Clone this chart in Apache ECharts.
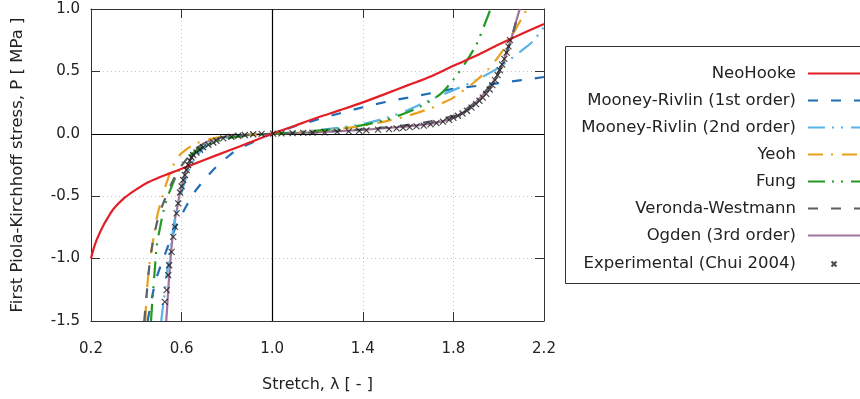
<!DOCTYPE html>
<html>
<head>
<meta charset="utf-8">
<script src="https://cdn.jsdelivr.net/npm/echarts@6/dist/echarts.min.js"></script>
<style>
  html, body { margin: 0; padding: 0; background: #fff; }
  #chart { width: 860px; height: 399px; }
</style>
</head>
<body>
<div id="chart"></div>
<script>
// Uniaxial response of hyperelastic models: stretch λ [-] vs. first Piola-Kirchhoff stress P [MPa]
const xTicks = [0.2, 0.6, 1.0, 1.4, 1.8, 2.2];
const yTicks = [-1.5, -1.0, -0.5, 0.0, 0.5, 1.0];

const seriesNames = [
  'NeoHooke',
  'Mooney-Rivlin (1st order)',
  'Mooney-Rivlin (2nd order)',
  'Yeoh',
  'Fung',
  'Veronda-Westmann',
  'Ogden (3rd order)',
  'Experimental (Chui 2004)'
];

const neoHooke = [
  [0.2, -1.0], [0.21, -0.93], [0.225, -0.85], [0.25, -0.75], [0.275, -0.67], [0.3, -0.6],
  [0.35, -0.51], [0.4, -0.445], [0.45, -0.39], [0.5, -0.35], [0.55, -0.315], [0.6, -0.28],
  [0.7, -0.21], [0.8, -0.14], [0.9, -0.07], [1.0, 0.0], [1.1, 0.065], [1.2, 0.13],
  [1.3, 0.19], [1.4, 0.252], [1.5, 0.32], [1.6, 0.39], [1.7, 0.46], [1.8, 0.545],
  [1.9, 0.625], [2.0, 0.715], [2.1, 0.8], [2.2, 0.88]
];

const mooneyRivlin1 = [
  [0.45, -1.5], [0.46, -1.4], [0.475, -1.26], [0.49, -1.15], [0.505, -1.07], [0.52, -1.0],
  [0.54, -0.9], [0.56, -0.81], [0.58, -0.72], [0.6, -0.65], [0.63, -0.55], [0.66, -0.46],
  [0.7, -0.37], [0.75, -0.27], [0.8, -0.19], [0.85, -0.12], [0.9, -0.08], [0.95, -0.038],
  [1.0, 0.0], [1.1, 0.06], [1.2, 0.115], [1.3, 0.165], [1.4, 0.213], [1.5, 0.255],
  [1.6, 0.29], [1.7, 0.325], [1.8, 0.36], [1.9, 0.383], [2.0, 0.405], [2.1, 0.43], [2.2, 0.455]
];

const mooneyRivlin2 = [
  [0.51, -1.5], [0.52, -1.35], [0.53, -1.2], [0.54, -1.05], [0.55, -0.92], [0.56, -0.8],
  [0.575, -0.66], [0.59, -0.54], [0.605, -0.44], [0.62, -0.35], [0.64, -0.26], [0.66, -0.19],
  [0.7, -0.11], [0.75, -0.06], [0.8, -0.03], [0.9, -0.008], [1.0, 0.0], [1.1, 0.012],
  [1.2, 0.03], [1.3, 0.05], [1.4, 0.078], [1.5, 0.125], [1.6, 0.19], [1.7, 0.275],
  [1.8, 0.35], [1.9, 0.43], [2.0, 0.53], [2.1, 0.665], [2.15, 0.74], [2.2, 0.855]
];

const yeoh = [
  [0.44, -1.5], [0.445, -1.3], [0.452, -1.15], [0.46, -1.02], [0.47, -0.9], [0.48, -0.79],
  [0.49, -0.68], [0.5, -0.6], [0.52, -0.47], [0.54, -0.36], [0.56, -0.265], [0.58, -0.2],
  [0.6, -0.155], [0.65, -0.09], [0.7, -0.055], [0.75, -0.033], [0.8, -0.02], [0.9, -0.007],
  [1.0, 0.0], [1.1, 0.01], [1.2, 0.022], [1.3, 0.04], [1.4, 0.065], [1.5, 0.1],
  [1.6, 0.145], [1.7, 0.205], [1.75, 0.245], [1.8, 0.29], [1.85, 0.355], [1.9, 0.425],
  [1.95, 0.51], [2.0, 0.62], [2.05, 0.76], [2.1, 0.92], [2.125, 1.0]
];

const fung = [
  [0.465, -1.5], [0.47, -1.36], [0.475, -1.24], [0.482, -1.08], [0.49, -0.9], [0.505, -0.75],
  [0.52, -0.62], [0.535, -0.52], [0.55, -0.45], [0.57, -0.36], [0.59, -0.285], [0.61, -0.225],
  [0.65, -0.155], [0.7, -0.1], [0.75, -0.062], [0.8, -0.036], [0.9, -0.011], [1.0, 0.0],
  [1.1, 0.01], [1.2, 0.025], [1.3, 0.042], [1.4, 0.07], [1.5, 0.11], [1.6, 0.175],
  [1.65, 0.215], [1.7, 0.265], [1.75, 0.33], [1.8, 0.435], [1.85, 0.56], [1.9, 0.71],
  [1.93, 0.84], [1.96, 0.98], [1.965, 1.0]
];

const verondaWestmann = [
  [0.435, -1.5], [0.44, -1.4], [0.445, -1.3], [0.455, -1.1], [0.47, -0.9], [0.49, -0.72],
  [0.51, -0.6], [0.534, -0.49], [0.555, -0.4], [0.578, -0.32], [0.6, -0.255], [0.63, -0.185],
  [0.66, -0.125], [0.7, -0.078], [0.75, -0.042], [0.8, -0.024], [0.9, -0.008], [1.0, 0.0],
  [1.1, 0.006], [1.2, 0.013], [1.3, 0.025], [1.4, 0.036], [1.5, 0.052], [1.6, 0.072],
  [1.7, 0.1], [1.8, 0.145], [1.85, 0.19], [1.9, 0.26], [1.95, 0.36], [2.0, 0.5],
  [2.05, 0.73], [2.08, 0.92], [2.092, 1.0]
];

const ogden = [
  [0.532, -1.5], [0.536, -1.4], [0.541, -1.25], [0.546, -1.12], [0.551, -1.0], [0.556, -0.9],
  [0.562, -0.8], [0.57, -0.69], [0.58, -0.6], [0.59, -0.5], [0.6, -0.425], [0.615, -0.32],
  [0.63, -0.24], [0.65, -0.17], [0.67, -0.12], [0.7, -0.075], [0.75, -0.04], [0.8, -0.02],
  [0.85, -0.012], [0.9, -0.007], [0.95, -0.003], [1.0, 0.0], [1.1, 0.006], [1.2, 0.012],
  [1.3, 0.021], [1.4, 0.032], [1.5, 0.045], [1.6, 0.06], [1.65, 0.069], [1.7, 0.082],
  [1.75, 0.1], [1.8, 0.13], [1.85, 0.18], [1.9, 0.255], [1.95, 0.355], [2.0, 0.49],
  [2.05, 0.73], [2.08, 0.92], [2.093, 1.0]
];

const experimental = [
  [0.526, -1.347], [0.534, -1.253], [0.541, -1.133], [0.545, -1.053], [0.556, -0.946],
  [0.563, -0.826], [0.571, -0.746], [0.578, -0.638], [0.585, -0.558], [0.593, -0.47],
  [0.6, -0.42], [0.607, -0.37], [0.615, -0.33], [0.622, -0.29], [0.629, -0.25],
  [0.637, -0.215], [0.644, -0.19], [0.651, -0.17], [0.666, -0.15], [0.681, -0.128],
  [0.695, -0.108], [0.718, -0.088], [0.74, -0.07], [0.754, -0.056], [0.784, -0.037],
  [0.82, -0.024], [0.85, -0.016], [0.879, -0.01], [0.916, -0.004], [0.953, -0.001],
  [1.004, 0.001], [1.041, 0.003], [1.09, 0.005], [1.137, 0.007], [1.178, 0.009],
  [1.232, 0.012], [1.287, 0.016], [1.338, 0.02], [1.384, 0.024], [1.416, 0.028],
  [1.467, 0.033], [1.516, 0.038], [1.549, 0.043], [1.578, 0.048], [1.607, 0.053],
  [1.637, 0.059], [1.669, 0.066], [1.699, 0.075], [1.725, 0.085], [1.754, 0.098],
  [1.781, 0.112], [1.8, 0.128], [1.82, 0.145], [1.84, 0.163], [1.86, 0.185],
  [1.88, 0.21], [1.9, 0.238], [1.915, 0.265], [1.93, 0.29], [1.945, 0.32],
  [1.96, 0.355], [1.972, 0.39], [1.984, 0.43], [1.995, 0.47], [2.005, 0.51],
  [2.015, 0.555], [2.025, 0.6], [2.035, 0.65], [2.043, 0.7], [2.05, 0.75]
];

const FONT = 'DejaVu Sans';
const TEXT = '#222';
const FRAME = '#333';
const LW = 2.2;

// small "x" marker; the invisible corners keep it small inside the legend icon box
const crossMarker = 'path://M0 0M40 40M14.5 14.5L25.5 25.5M25.5 14.5L14.5 25.5';
const crossPlot = 'path://M0 0L10 10M10 0L0 10';

function curve(name, data, color, dash, z) {
  return {
    name: name,
    type: 'line',
    data: data,
    showSymbol: false,
    symbol: 'none',
    smooth: 0.3,
    z: z,
    lineStyle: { color: color, width: LW, type: dash, cap: 'butt' },
    itemStyle: { color: color },
    emphasis: { disabled: true }
  };
}

const fmt = v => Number(v).toFixed(1);

const chart = echarts.init(document.getElementById('chart'), null, { renderer: 'canvas' });

const option = {
  animation: false,
  backgroundColor: '#fff',
  textStyle: { fontFamily: FONT },
  grid: { left: 91, right: 316, top: 9, bottom: 78, containLabel: false },
  xAxis: [
    {
      type: 'value', min: 0.2, max: 2.2, position: 'bottom',
      name: 'Stretch, λ [ - ]', nameLocation: 'middle', nameGap: 56,
      nameTextStyle: { fontFamily: FONT, fontSize: 16, color: TEXT },
      axisLine: { show: true, onZero: false, lineStyle: { color: FRAME, width: 1 } },
      axisTick: { show: true, inside: true, length: 9, customValues: xTicks, lineStyle: { color: FRAME } },
      axisLabel: { show: true, margin: 21, customValues: xTicks, formatter: fmt,
                   fontFamily: FONT, fontSize: 15, color: TEXT },
      splitLine: { show: true, lineStyle: { color: '#c4c4c4', width: 1, type: [1, 3] } }
    },
    {
      type: 'value', min: 0.2, max: 2.2, position: 'top',
      axisLine: { show: true, onZero: false, lineStyle: { color: FRAME, width: 1 } },
      axisTick: { show: true, inside: true, length: 9, customValues: xTicks, lineStyle: { color: FRAME } },
      axisLabel: { show: false },
      splitLine: { show: false }
    }
  ],
  yAxis: [
    {
      type: 'value', min: -1.5, max: 1.0, interval: 0.5, position: 'left',
      name: 'First Piola-Kirchhoff stress, P [ MPa ]', nameLocation: 'middle', nameGap: 65,
      nameTextStyle: { fontFamily: FONT, fontSize: 16.5, color: TEXT },
      axisLine: { show: true, onZero: false, lineStyle: { color: FRAME, width: 1 } },
      axisTick: { show: true, inside: true, length: 9, lineStyle: { color: FRAME } },
      axisLabel: { show: true, margin: 11, formatter: fmt, fontFamily: FONT, fontSize: 15, color: TEXT },
      splitLine: { show: true, lineStyle: { color: '#c4c4c4', width: 1, type: [1, 3] } }
    },
    {
      type: 'value', min: -1.5, max: 1.0, interval: 0.5, position: 'right',
      axisLine: { show: true, onZero: false, lineStyle: { color: FRAME, width: 1 } },
      axisTick: { show: true, inside: true, length: 9, lineStyle: { color: FRAME } },
      axisLabel: { show: false },
      splitLine: { show: false }
    }
  ],
  legend: {
    orient: 'vertical',
    align: 'right',
    right: -1,
    top: 65,
    padding: 0,
    itemWidth: 52,
    itemHeight: 18,
    itemGap: 10,
    selectedMode: false,
    // line entries show only the line sample; the measured data shows its marker
    data: seriesNames.map((n, i) => i === 7
      ? { name: n, icon: crossMarker }
      : { name: n, itemStyle: { opacity: 0 } }),
    textStyle: { fontFamily: FONT, fontSize: 16.5, color: TEXT, padding: [0, 7, 0, 0] }
  },
  graphic: [
    {
      type: 'rect', z: -1, silent: true,
      shape: { x: 565.5, y: 46.5, width: 320, height: 237 },
      style: { fill: '#fff', stroke: '#333', lineWidth: 1 }
    }
  ],
  series: [
    {
      // coordinate axes through the origin (λ = 1, P = 0)
      name: 'origin', type: 'line', data: [], z: 1, symbol: 'none',
      markLine: {
        silent: true, symbol: 'none', label: { show: false },
        lineStyle: { color: '#000', width: 1.2, type: 'solid' },
        data: [{ xAxis: 1.0 }, { yAxis: 0 }]
      }
    },
    curve(seriesNames[0], neoHooke, '#e41e26', 'solid', 9),
    curve(seriesNames[1], mooneyRivlin1, '#1f6db4', [10, 13], 3),
    curve(seriesNames[2], mooneyRivlin2, '#58b3e6', [17, 7, 2, 7, 2, 8], 4),
    curve(seriesNames[3], yeoh, '#e9a01c', [15, 8, 2, 9], 5),
    curve(seriesNames[4], fung, '#229a24', [17, 7, 2, 7, 2, 8], 6),
    curve(seriesNames[5], verondaWestmann, '#5b6067', [10, 13], 7),
    curve(seriesNames[6], ogden, '#9f7599', 'solid', 2),
    {
      name: seriesNames[7],
      type: 'scatter',
      data: experimental,
      symbol: crossPlot,
      symbolSize: 6,
      z: 10,
      itemStyle: { color: 'rgba(0,0,0,0)', borderColor: '#1a1a1a', borderWidth: 1.2 },
      emphasis: { disabled: true }
    }
  ]
};

chart.setOption(option);
</script>
</body>
</html>
